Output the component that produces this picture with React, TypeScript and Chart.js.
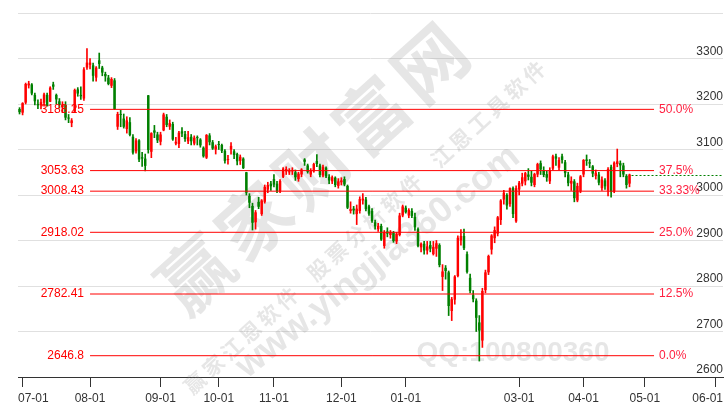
import React, { useEffect, useRef } from 'react';
import { Chart, registerables } from 'chart.js';

Chart.register(...registerables);

// ---------- categories (trading days, then future weekdays) ----------
const START_DATE = '2023-06-29';
const END_DATE = '2024-06-05';
const LAST_TRADING_DATE = '2024-04-24';
const HOLIDAYS = [
  '2023-09-29', '2023-10-02', '2023-10-03', '2023-10-04', '2023-10-05', '2023-10-06',
  '2024-01-01', '2024-02-09', '2024-02-12', '2024-02-13', '2024-02-14', '2024-02-15',
  '2024-02-16', '2024-04-04', '2024-04-05',
];

// ---------- candle values ----------
const OPEN = [
  3189, 3181, 3203, 3241, 3243, 3220, 3200, 3197, 3203, 3220,
  3205, 3243, 3220, 3206, 3193, 3198, 3170, 3158, 3183, 3232,
  3220, 3212, 3280, 3286, 3285, 3258, 3296, 3280, 3266, 3258,
  3240, 3252, 3150, 3178, 3168, 3145, 3160, 3128, 3096, 3120,
  3083, 3080, 3219, 3095, 3142, 3133, 3117, 3142, 3172, 3150,
  3156, 3113, 3112, 3140, 3134, 3118, 3128, 3113, 3126, 3122,
  3104, 3082, 3131, 3116, 3100, 3112, 3110, 3097, 3077, 3100,
  3096, 3090, 3075, 3080, 3050, 2998, 2976, 2940, 2985, 2958,
  2985, 3012, 3025, 3035, 3025, 3008, 3040, 3052, 3050, 3052,
  3050, 3035, 3045, 3078, 3065, 3045, 3052, 3075, 3065, 3043,
  3060, 3040, 3030, 3038, 3020, 3028, 3035, 3020, 2965, 2970,
  2958, 2965, 2988, 2990, 2975, 2965, 2940, 2925, 2932, 2888,
  2920, 2912, 2918, 2898, 2912, 2955, 2972, 2955, 2965, 2952,
  2925, 2885, 2893, 2878, 2890, 2870, 2882, 2890, 2820, 2840,
  2830, 2745, 2770, 2822, 2900, 2910, 2870, 2818, 2780, 2768,
  2720, 2680, 2791, 2830, 2880, 2905, 2915, 2945, 2990, 3000,
  2980, 3015, 2942, 3012, 3025, 3030, 3045, 3040, 3022, 3045,
  3070, 3055, 3046, 3030, 3058, 3085, 3060, 3085, 3072, 3045,
  3025, 3030, 2988, 3008, 3045, 3078, 3072, 3063, 3042, 3045,
  3015, 3032, 3010, 3062, 3008, 3068, 3070, 3065, 3042, 3025,
];
const HIGH = [
  3192, 3203, 3246, 3250, 3245, 3224, 3209, 3211, 3224, 3224,
  3238, 3248, 3222, 3212, 3205, 3205, 3177, 3168, 3233, 3236,
  3238, 3280, 3322, 3300, 3290, 3282, 3312, 3283, 3270, 3263,
  3258, 3256, 3182, 3186, 3178, 3172, 3170, 3133, 3124, 3122,
  3094, 3090, 3219, 3137, 3153, 3138, 3138, 3180, 3177, 3165,
  3160, 3127, 3140, 3148, 3140, 3140, 3133, 3130, 3130, 3124,
  3106, 3133, 3135, 3120, 3110, 3118, 3112, 3100, 3087, 3115,
  3100, 3092, 3088, 3082, 3050, 3003, 2982, 2966, 2995, 2990,
  3022, 3028, 3030, 3045, 3030, 3034, 3060, 3062, 3058, 3060,
  3055, 3050, 3058, 3080, 3068, 3058, 3070, 3089, 3068, 3066,
  3062, 3045, 3042, 3040, 3036, 3038, 3040, 3022, 2985, 2975,
  2978, 2996, 3003, 2995, 2978, 2970, 2945, 2938, 2936, 2922,
  2928, 2922, 2920, 2918, 2960, 2978, 2976, 2970, 2970, 2960,
  2928, 2895, 2898, 2898, 2898, 2898, 2900, 2893, 2847, 2845,
  2833, 2775, 2823, 2910, 2924, 2925, 2875, 2826, 2790, 2772,
  2735, 2795, 2835, 2868, 2913, 2930, 2953, 2990, 3010, 3003,
  3016, 3018, 3020, 3030, 3048, 3050, 3058, 3052, 3048, 3070,
  3075, 3062, 3052, 3060, 3088, 3090, 3082, 3090, 3076, 3050,
  3040, 3034, 3026, 3043, 3078, 3088, 3078, 3065, 3055, 3050,
  3040, 3036, 3060, 3066, 3073, 3101, 3075, 3070, 3045, 3046,
];
const LOW = [
  3178, 3176, 3200, 3235, 3220, 3198, 3190, 3189, 3195, 3195,
  3205, 3232, 3200, 3191, 3181, 3165, 3159, 3150, 3182, 3217,
  3210, 3208, 3276, 3277, 3250, 3250, 3278, 3262, 3250, 3242,
  3236, 3188, 3144, 3150, 3147, 3136, 3130, 3090, 3092, 3073,
  3063, 3053, 3092, 3082, 3126, 3115, 3110, 3141, 3150, 3144,
  3120, 3110, 3104, 3128, 3118, 3113, 3110, 3110, 3110, 3105,
  3083, 3080, 3110, 3100, 3090, 3100, 3093, 3070, 3068, 3090,
  3080, 3066, 3067, 3058, 3000, 2972, 2923, 2925, 2970, 2955,
  2982, 3005, 3010, 3018, 3005, 3005, 3038, 3045, 3045, 3045,
  3032, 3030, 3040, 3065, 3048, 3040, 3050, 3062, 3040, 3040,
  3038, 3025, 3025, 3018, 3015, 3022, 3020, 2970, 2960, 2958,
  2935, 2960, 2980, 2965, 2955, 2940, 2925, 2920, 2900, 2883,
  2908, 2905, 2896, 2893, 2910, 2952, 2960, 2950, 2950, 2922,
  2886, 2875, 2870, 2870, 2875, 2868, 2865, 2842, 2790, 2815,
  2735, 2724, 2760, 2820, 2890, 2880, 2828, 2785, 2765, 2700,
  2635, 2665, 2785, 2825, 2870, 2895, 2910, 2935, 2980, 2969,
  2975, 2950, 2940, 3000, 3020, 3022, 3033, 3020, 3018, 3040,
  3045, 3040, 3030, 3025, 3055, 3065, 3055, 3070, 3040, 3020,
  3010, 2985, 2985, 3005, 3040, 3065, 3060, 3040, 3035, 3022,
  3010, 3012, 2998, 2995, 3005, 3062, 3040, 3040, 3015, 3018,
];
const CLOSE = [
  3182, 3202, 3244, 3245, 3223, 3206, 3197, 3204, 3221, 3196,
  3236, 3238, 3210, 3198, 3199, 3170, 3168, 3164, 3231, 3223,
  3217, 3276, 3291, 3291, 3262, 3280, 3288, 3269, 3261, 3244,
  3255, 3189, 3178, 3176, 3150, 3164, 3132, 3093, 3120, 3078,
  3080, 3064, 3099, 3136, 3137, 3120, 3133, 3177, 3154, 3158,
  3122, 3117, 3137, 3135, 3123, 3127, 3118, 3126, 3125, 3109,
  3085, 3132, 3116, 3102, 3107, 3110, 3097, 3075, 3079, 3108,
  3088, 3074, 3084, 3059, 3005, 2983, 2939, 2962, 2974, 2988,
  3018, 3022, 3019, 3023, 3009, 3031, 3058, 3057, 3052, 3053,
  3039, 3047, 3056, 3073, 3051, 3054, 3068, 3068, 3044, 3062,
  3041, 3032, 3039, 3022, 3030, 3032, 3023, 2972, 2969, 2966,
  2970, 2991, 2992, 2969, 2959, 2943, 2931, 2932, 2902, 2919,
  2915, 2919, 2899, 2915, 2955, 2975, 2962, 2967, 2954, 2929,
  2888, 2893, 2878, 2887, 2882, 2886, 2894, 2846, 2832, 2833,
  2756, 2771, 2821, 2906, 2910, 2883, 2831, 2789, 2771, 2730,
  2702, 2789, 2830, 2866, 2911, 2923, 2951, 2988, 3005, 2977,
  3015, 2958, 3015, 3027, 3039, 3048, 3040, 3027, 3046, 3068,
  3056, 3044, 3038, 3055, 3085, 3080, 3077, 3077, 3048, 3026,
  3031, 2993, 3020, 3041, 3077, 3075, 3069, 3047, 3049, 3027,
  3034, 3019, 3057, 3007, 3071, 3074, 3065, 3045, 3022, 3045,
];

// ---------- axis ticks ----------
const TICK_DATES = [
  '2023-06-30', '2023-08-01', '2023-09-01', '2023-09-28', '2023-11-01', '2023-12-01',
  '2024-01-02', '2024-03-01', '2024-04-01', '2024-05-01', '2024-06-03',
];
const TICK_LABELS = ['07-01', '08-01', '09-01', '10-01', '11-01', '12-01', '01-01', '03-01', '04-01', '05-01', '06-01'];
const Y_MIN = 2600;
const Y_MAX = 3400;
const Y_STEP = 100;

// ---------- retracement levels ----------
const FIB_LEVELS = [3188.25, 3053.63, 3008.43, 2918.02, 2782.41, 2646.8];
const FIB_VALUE_LABELS = ['3188.25', '3053.63', '3008.43', '2918.02', '2782.41', '2646.8'];
const FIB_PCT_LABELS = ['50.0%', '37.5%', '33.33%', '25.0%', '12.5%', '0.0%'];
const FIB_START_DATE = '2023-08-01';
const FIB_END_DATE = '2024-05-06';

// ---------- watermark texts ----------
const WM_MAIN = '赢家财富网';
const WM_SUB = '赢家江恩软件  股票分析软件  江恩工具软件';
const WM_URL = 'www.yingjia360.com';
const WM_QQ = 'QQ:100800360';

const UP = '#ff0000';
const DOWN = '#008000';
const FONT = 'Arial, "Liberation Sans", sans-serif';
const CJK = '"Noto Sans CJK SC", sans-serif';

function buildCategories(): string[] {
  const out: string[] = [];
  const d = new Date(START_DATE + 'T00:00:00Z');
  const end = new Date(END_DATE + 'T00:00:00Z');
  while (d <= end) {
    const dow = d.getUTCDay();
    const s = d.toISOString().slice(0, 10);
    const closed = s <= LAST_TRADING_DATE && HOLIDAYS.includes(s);
    if (dow !== 0 && dow !== 6 && !closed) out.push(s);
    d.setUTCDate(d.getUTCDate() + 1);
  }
  return out;
}

function drawRotated(ctx: CanvasRenderingContext2D, text: string, cx: number, cy: number, deg: number, font: string, color: string, spacing: number) {
  ctx.save();
  ctx.translate(cx, cy);
  ctx.rotate((deg * Math.PI) / 180);
  ctx.font = font;
  (ctx as any).letterSpacing = spacing + 'px';
  ctx.fillStyle = color;
  ctx.textAlign = 'center';
  ctx.textBaseline = 'middle';
  ctx.fillText(text, 0, 0);
  ctx.restore();
}

export default function App() {
  const ref = useRef<HTMLCanvasElement>(null);

  useEffect(() => {
    document.body.style.margin = '0';
    const categories = buildCategories();
    const tickIdx = new Map<number, string>();
    TICK_DATES.forEach((d, i) => tickIdx.set(categories.indexOf(d), TICK_LABELS[i]));

    const colors = CLOSE.map((c, i) => (c >= OPEN[i] ? UP : DOWN));
    const bodies = CLOSE.map((c, i) => [Math.min(OPEN[i], c), Math.max(OPEN[i], c)]);
    const wicks = HIGH.map((h, i) => [LOW[i], h]);

    const overlay = {
      id: 'overlay',
      beforeDatasetsDraw(chart: any) {
        const ctx = chart.ctx as CanvasRenderingContext2D;
        const wm = 'rgba(140,140,140,0.22)';
        drawRotated(ctx, WM_MAIN, 315, 166, -42, `bold 72px ${CJK}`, wm, 7);
        drawRotated(ctx, WM_SUB, 366, 226, -42.5, `bold 21px ${CJK}`, wm, 4);
        drawRotated(ctx, WM_URL, 378, 262, -38.5, `bold 36px ${FONT}`, wm, 0);
        drawRotated(ctx, WM_QQ, 513, 353, 0, `bold 28px ${FONT}`, wm, 0);
      },
      afterDatasetsDraw(chart: any) {
        const ctx = chart.ctx as CanvasRenderingContext2D;
        const xs = chart.scales.x;
        const ys = chart.scales.y;
        const area = chart.chartArea;
        // retracement lines
        const x1 = xs.getPixelForValue(categories.indexOf(FIB_START_DATE));
        const x2 = xs.getPixelForValue(categories.indexOf(FIB_END_DATE));
        ctx.save();
        ctx.font = `12px ${FONT}`;
        ctx.textBaseline = 'middle';
        FIB_LEVELS.forEach((lvl, i) => {
          const y = ys.getPixelForValue(lvl);
          ctx.strokeStyle = '#ff0000';
          ctx.lineWidth = 1;
          ctx.beginPath();
          ctx.moveTo(x1, y);
          ctx.lineTo(x2, y);
          ctx.stroke();
          ctx.fillStyle = '#ff0000';
          ctx.textAlign = 'right';
          ctx.fillText(FIB_VALUE_LABELS[i], x1 - 6, y);
          ctx.fillStyle = '#ff2040';
          ctx.textAlign = 'left';
          ctx.fillText(FIB_PCT_LABELS[i], x2 + 5, y);
        });
        // last close dashed line
        const last = CLOSE.length - 1;
        const lx = xs.getPixelForValue(last) + 2;
        const ly = Math.round(ys.getPixelForValue(CLOSE[last])) + 0.5;
        ctx.strokeStyle = DOWN;
        ctx.setLineDash([2, 2]);
        ctx.beginPath();
        ctx.moveTo(lx, ly);
        ctx.lineTo(area.right, ly);
        ctx.stroke();
        ctx.setLineDash([]);
        // x tick labels, kept inside the axis
        ctx.fillStyle = '#333';
        ctx.textAlign = 'left';
        ctx.font = `12px ${FONT}`;
        tickIdx.forEach((label, idx) => {
          const px = xs.getPixelForValue(idx);
          const w = ctx.measureText(label).width;
          let left = px - w / 2;
          left = Math.max(area.left, Math.min(area.right - w, left));
          ctx.fillText(label, left, area.bottom + 22);
        });
        ctx.restore();
      },
    };

    const chart = new Chart(ref.current!, {
      type: 'bar',
      data: {
        labels: categories,
        datasets: [
          {
            label: 'body',
            data: bodies as any,
            backgroundColor: colors,
            borderWidth: 0,
            grouped: false,
            categoryPercentage: 1,
            barPercentage: 0.8,
            minBarLength: 1,
          } as any,
          {
            label: 'wick',
            data: wicks as any,
            backgroundColor: colors,
            borderWidth: 0,
            grouped: false,
            barThickness: 1,
          } as any,
        ],
      },
      options: {
        responsive: false,
        animation: false,
        devicePixelRatio: 1,
        layout: { padding: { left: 18, right: 3, top: 13, bottom: 26 } },
        plugins: { legend: { display: false }, tooltip: { enabled: false } },
        scales: {
          x: {
            type: 'category',
            offset: true,
            grid: { offset: false, drawOnChartArea: false, drawTicks: true, tickLength: 10, tickColor: '#333', tickWidth: 1 },
            border: { display: true, color: '#333', width: 1 },
            ticks: { display: false, autoSkip: false },
            afterBuildTicks: (scale: any) => {
              scale.ticks = scale.ticks.filter((t: any) => tickIdx.has(t.value));
            },
          },
          y: {
            position: 'right',
            min: Y_MIN,
            max: Y_MAX,
            grid: { color: '#e0e0e0', drawTicks: false, lineWidth: 1 },
            border: { display: false },
            ticks: {
              stepSize: Y_STEP,
              mirror: true,
              padding: 0,
              labelOffset: -7,
              color: '#333',
              font: { size: 12, family: FONT },
              callback: (v: any) => (Number(v) >= Y_MAX ? '' : String(v)),
            },
          },
        },
      } as any,
      plugins: [overlay],
    });
    return () => chart.destroy();
  }, []);

  return (
    <div style={{ width: 726, height: 413 }}>
      <canvas ref={ref} width={726} height={413} style={{ display: 'block' }} />
    </div>
  );
}
